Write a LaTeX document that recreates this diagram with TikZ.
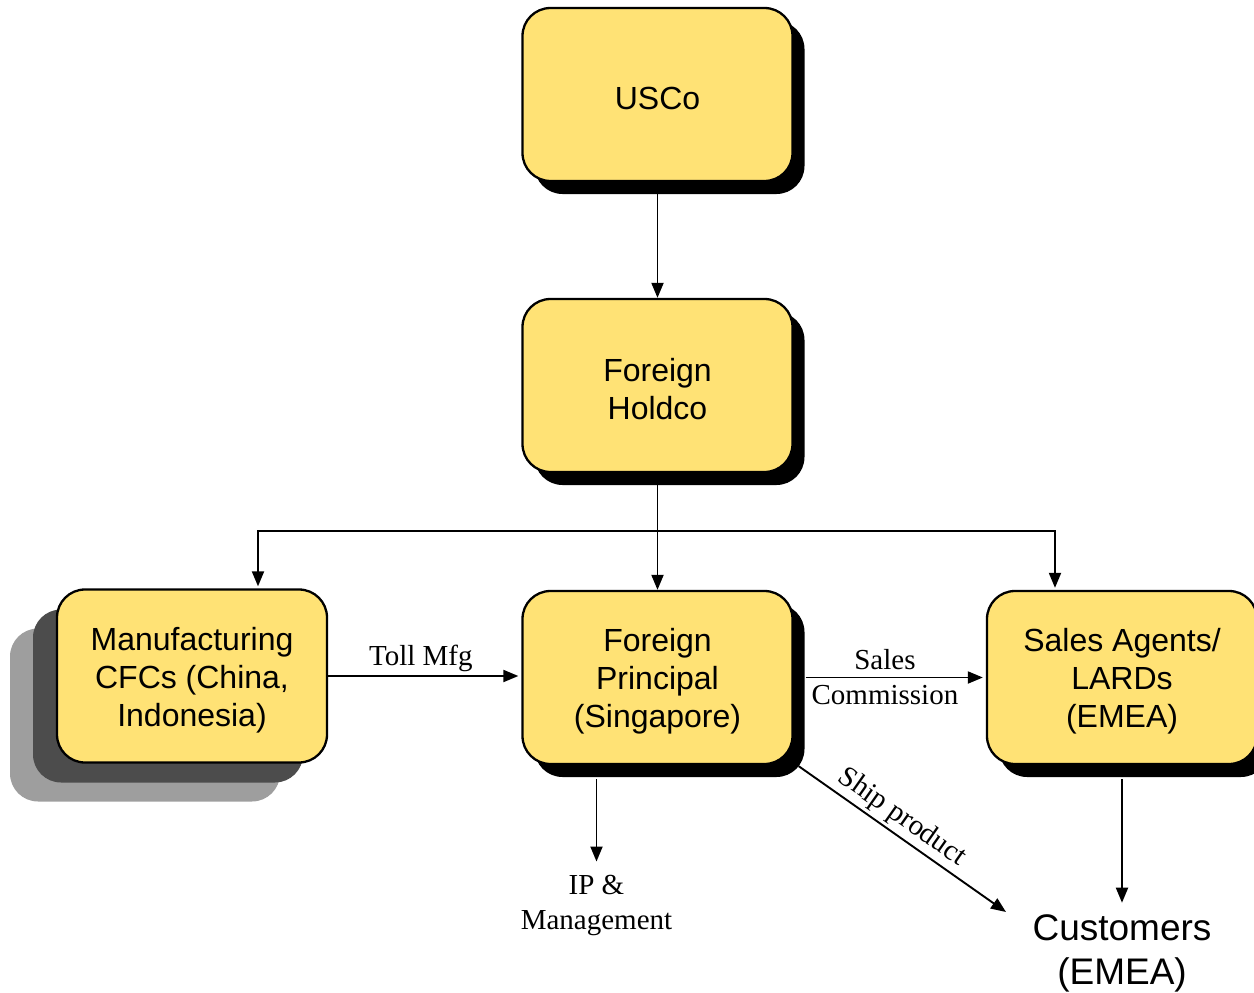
\documentclass[tikz,border=0pt]{standalone}
\usepackage{fontspec}
\setmainfont{Liberation Serif}
\setsansfont{Liberation Sans}
\usetikzlibrary{arrows.meta,shadows,calc}
\definecolor{boxyellow}{RGB}{255,226,117}
\definecolor{shadowdark}{RGB}{76,76,76}
\definecolor{shadowlight}{RGB}{158,158,158}
\begin{document}
\begin{tikzpicture}[x=1pt,y=-1pt,
  entitytext/.style={font=\sffamily\fontsize{32}{38}\selectfont, align=center, yshift=-4pt},
  entity/.style={draw=black, line width=2.3pt, fill=boxyellow,
    rounded corners=28pt, minimum width=270pt, minimum height=173pt,
    label={[entitytext]center:#1}},
  blackshadow/.style={drop shadow={shadow xshift=12pt, shadow yshift=-13pt,
    fill=black, opacity=1}},
  stackshadow/.style={
    drop shadow={shadow xshift=-47pt, shadow yshift=-39pt, fill=shadowlight, opacity=1},
    drop shadow={shadow xshift=-24pt, shadow yshift=-20pt, fill=shadowdark, opacity=1}},
  arr/.style={line width=1.9pt, -{Triangle[length=15pt,width=12pt]}},
  flowlabel/.style={font=\fontsize{29}{35}\selectfont, align=center, inner sep=3pt},
  endlabel/.style={font=\sffamily\fontsize{37}{44}\selectfont, align=center}
]
\useasboundingbox (0,0) rectangle (1254,993);

% entities
\node[entity={USCo}, blackshadow] (usco) at (657.5,94.5) {};
\node[entity={Foreign\\Holdco}, blackshadow] (holdco) at (657.5,385.5) {};
\node[entity={Manufacturing\\CFCs (China,\\Indonesia)}, stackshadow] (mfg) at (192,676) {};
\node[entity={Foreign\\Principal\\(Singapore)}, blackshadow] (principal) at (657.5,677.5) {};
\node[entity={Sales Agents/\\LARDs\\(EMEA)}, blackshadow] (sales) at (1122,677.5) {};

% end points without boxes
\node[flowlabel] (ip) at (596.5,905) {IP \&\\Management};
\node[endlabel] (cust) at (1122,953) {Customers\\(EMEA)};
\coordinate (split) at (657.5,531);
\coordinate (shipend) at (1006,912);

% ownership
\draw[arr] (usco.south) -- (holdco.north);
\draw[line width=1.9pt] (holdco.south) -- (split);
\draw[arr] (split) -- (principal.north);
\draw[arr] (split) -| ($(mfg.north)+(66,-2)$);
\draw[arr] (split) -| ($(sales.north)+(-67,-2)$);

% flows
\draw[arr, shorten >=3pt] (mfg.east) -- node[flowlabel, above, pos=0.48] {Toll Mfg} ($(principal.west)+(0,-1.5)$);
\draw[arr, shorten >=3pt] ($(principal.east)+(12,0)$) -- node[flowlabel, anchor=center, pos=0.44] {Sales\\Commission} (sales.west);
\draw[arr, shorten >=10pt] ($(principal.south)+(-61,14)$) -- (ip.north);
\draw[arr] ($(principal.south east)+(5,1)$) -- node[flowlabel, above, sloped, pos=0.45] {Ship product} (shipend);
\draw[arr, shorten >=8pt] ($(sales.south)+(0,14)$) -- (cust.north);
\end{tikzpicture}
\end{document}
